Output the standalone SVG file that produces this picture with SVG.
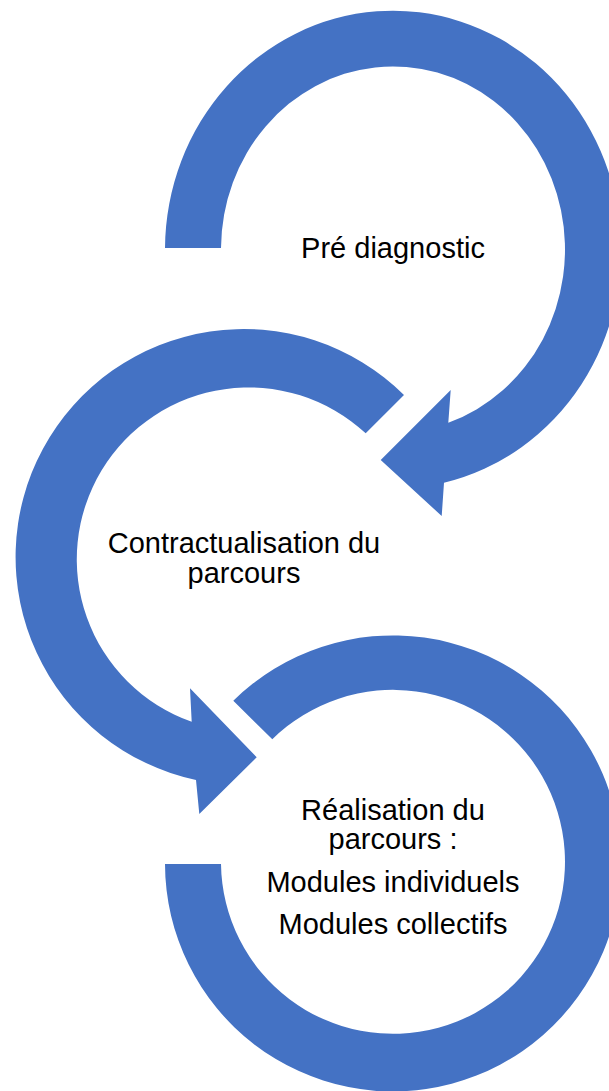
<svg xmlns="http://www.w3.org/2000/svg" width="609" height="1091" viewBox="0 0 609 1091">
  <style>
    .arrow { fill: #4472C4; stroke: none; }
    .lbl { font-family: "Liberation Sans", Arial, sans-serif; font-size: 29px; fill: #000000; text-anchor: middle; }
  </style>
  <rect width="609" height="1091" fill="#FFFFFF"/>
  <g id="connectors">
    <path id="arrow1" class="arrow" d="M165,248 A228,239 0 1 1 444,482.7 L441.7,516 L380.7,460 L450.7,390 L448.3,422.7 A172,183 0 1 0 221,248 Z"/>
    <path id="arrow2" class="arrow" d="M404,395 A228,228 0 1 0 196,780 L199.3,814 L256.7,757.3 L190,688.3 L191.7,721.7 A172,172 0 1 1 365.7,433.3 Z"/>
    <path id="arrow3" class="arrow" d="M233.3,700.7 A228,228 0 1 1 165,864 L221,864 A172,172 0 1 0 272.3,739.3 Z"/>
  </g>
  <g id="node1">
    <text class="lbl" x="393" y="258">Pré diagnostic</text>
  </g>
  <g id="node2">
    <text class="lbl" x="244" y="553">Contractualisation du</text>
    <text class="lbl" x="244" y="583">parcours</text>
  </g>
  <g id="node3">
    <text class="lbl" x="393" y="820">Réalisation du</text>
    <text class="lbl" x="393" y="849">parcours :</text>
    <text class="lbl" x="393" y="892">Modules individuels</text>
    <text class="lbl" x="393" y="934">Modules collectifs</text>
  </g>
</svg>
